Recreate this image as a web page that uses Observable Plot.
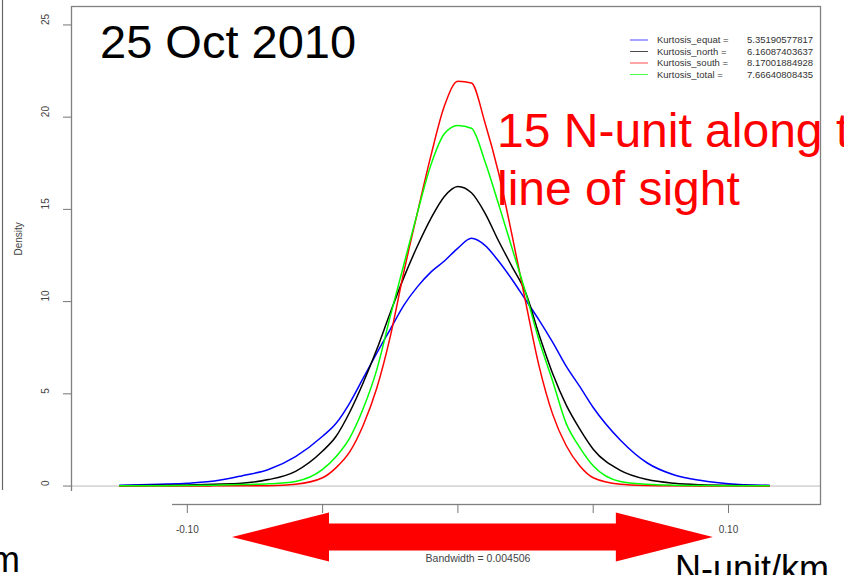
<!DOCTYPE html>
<html><head><meta charset="utf-8">
<script src="https://cdn.jsdelivr.net/npm/d3@7"></script>
<script src="https://cdn.jsdelivr.net/npm/@observablehq/plot@0.6"></script>
<style>
html,body{margin:0;padding:0;background:#fff;}
#wrap{position:relative;width:844px;height:575px;overflow:hidden;font-family:"Liberation Sans",Arial,sans-serif;}
#wrap svg{position:absolute;left:0;top:0;}
</style></head><body><div id="wrap"></div>
<script>
// ---- data ----
const xGrid = [-0.125,-0.11,-0.10,-0.09,-0.08,-0.07,-0.06,-0.05,-0.045,-0.04,-0.035,-0.03,-0.025,-0.02,-0.015,-0.01,-0.005,0,0.005,0.01,0.015,0.02,0.025,0.03,0.035,0.04,0.045,0.05,0.06,0.07,0.08,0.09,0.10,0.115];
const equat = [0.05,0.1,0.15,0.27,0.55,0.9,1.6,2.7,3.4,4.5,5.85,7.2,8.5,9.8,10.8,11.6,12.2,12.9,13.43,13.05,12.2,11.2,10.1,9.0,7.8,6.5,5.4,4.26,2.5,1.25,0.6,0.3,0.13,0.04];
const north = [0.02,0.04,0.06,0.1,0.15,0.35,0.8,1.9,2.7,4.0,5.6,7.4,9.4,11.3,13.0,14.5,15.7,16.24,15.9,14.8,13.3,11.9,10.5,8.2,6.1,4.4,3.1,2.0,0.85,0.35,0.15,0.07,0.04,0.02];
const south = [0.005,0.005,0.005,0.01,0.01,0.02,0.1,0.45,1.0,1.85,3.3,5.3,8.1,11.6,14.8,17.9,20.6,21.95,21.85,19.7,17.0,13.6,10.0,6.5,3.9,2.2,1.1,0.45,0.1,0.03,0.01,0.005,0.005,0.005];
const total = [0.01,0.02,0.03,0.05,0.08,0.12,0.25,0.9,1.6,2.6,4.2,6.3,9.2,12.0,14.8,17.4,19.1,19.55,19.4,17.6,15.3,12.9,10.5,7.9,5.7,3.4,2.1,1.1,0.25,0.1,0.05,0.03,0.02,0.01];
const seriesNames = ["equat","north","south","total"];
const seriesColors = ["#0000ff","#000000","#ff0000","#00ff00"];
const kurtosis = ["5.35190577817","6.16087403637","8.17001884928","7.66640808435"];
const xTicks = [-0.10,-0.05,0,0.05,0.10];
const yTicks = [0,5,10,15,20,25];
const arrowSpan = [-0.0833, 0.0944];

const seriesValues = [equat, north, south, total];
const rows = [];
seriesNames.forEach((s,k)=>xGrid.forEach((x,i)=>rows.push({series:s, x, y:seriesValues[k][i]})));

const FONT = "Liberation Sans, Arial, sans-serif";
const plot = Plot.plot({
  width: 844, height: 575,
  marginLeft: 71, marginRight: 24, marginTop: 6, marginBottom: 71,
  style: {background: "white", fontFamily: FONT, color: "#444"},
  x: {domain: [-0.1428, 0.134]},
  y: {domain: [-1, 26]},
  color: {domain: seriesNames, range: seriesColors},
  marks: [
    Plot.ruleY([0], {stroke: "#bbbbbb", strokeWidth: 1}),
    Plot.line(rows, {x: "x", y: "y", z: "series", stroke: "series", strokeWidth: 1.5, curve: "monotone-x"}),
    Plot.frame({stroke: "#808080", strokeWidth: 1.3}),
    Plot.axisX({ticks: xTicks, tickSize: 9, tickPadding: 12, tickFormat: d => d.toFixed(2), fontSize: 10, stroke: "#777", fill: "#444", label: null}),
    Plot.axisY({ticks: yTicks, tickSize: 8, tickFormat: () => "", stroke: "#777", label: null}),
    Plot.text(yTicks, {y: d => d, text: d => String(d), frameAnchor: "left", dx: -26, rotate: -90, fontSize: 10, fill: "#444"}),
    Plot.text(["Density"], {text: d => d, frameAnchor: "left", dx: -53, rotate: -90, fontSize: 10, fill: "#444"}),
    Plot.text(["Bandwidth = 0.004506"], {text: d => d, frameAnchor: "bottom", dx: 32, dy: 57, fontSize: 10.5, fill: "#444"})
  ]
});
const wrap = document.getElementById("wrap");
wrap.appendChild(plot);

// ---- slide overlays ----
const xs = plot.scale("x");
const ov = d3.create("svg").attr("width", 844).attr("height", 575).style("font-family", FONT);
ov.append("rect").attr("x", 0).attr("y", 491).attr("width", 172).attr("height", 84).attr("fill", "white");
ov.append("line").attr("x1", 2.5).attr("x2", 2.5).attr("y1", 0).attr("y2", 490).attr("stroke", "#666").attr("stroke-width", 1.2);

// legend
seriesNames.forEach((s, i) => {
  const y = 40 + i * 11.5;
  ov.append("line").attr("x1", 630).attr("x2", 648).attr("y1", y).attr("y2", y).attr("stroke", seriesColors[i]).attr("stroke-width", 1).attr("opacity", 0.7);
  ov.append("text").attr("x", 657).attr("y", y).attr("dy", "0.35em").attr("font-size", 9.5).attr("fill", "#333").text("Kurtosis_" + s + " =");
  ov.append("text").attr("x", 747).attr("y", y).attr("dy", "0.35em").attr("font-size", 9.5).attr("fill", "#333").text(kurtosis[i]);
});

// big slide texts
ov.append("text").attr("x", 100).attr("y", 57.5).attr("font-size", 47).attr("fill", "#000").text("25 Oct 2010");
ov.append("text").attr("x", 497).attr("y", 147).attr("font-size", 48).attr("fill", "#ff0000").text("15 N-unit along the");
ov.append("text").attr("x", 497).attr("y", 205).attr("font-size", 48).attr("fill", "#ff0000").text("line of sight");
ov.append("text").attr("x", 675).attr("y", 581).attr("font-size", 36).attr("fill", "#000").text("N-unit/km");
ov.append("text").attr("x", -10).attr("y", 572).attr("font-size", 36).attr("fill", "#000").text("m");

// double arrow
const xl = xs.apply(arrowSpan[0]), xr = xs.apply(arrowSpan[1]);
const cy = 537, hs = 13.5, hh = 24.5, hl = 97;
const pts = [[xl, cy], [xl + hl, cy - hh], [xl + hl, cy - hs], [xr - hl, cy - hs], [xr - hl, cy - hh], [xr, cy],
             [xr - hl, cy + hh], [xr - hl, cy + hs], [xl + hl, cy + hs], [xl + hl, cy + hh]];
ov.append("polygon").attr("points", pts.map(p => p.join(",")).join(" ")).attr("fill", "#ff0000");

wrap.appendChild(ov.node());
</script>
</body></html>
